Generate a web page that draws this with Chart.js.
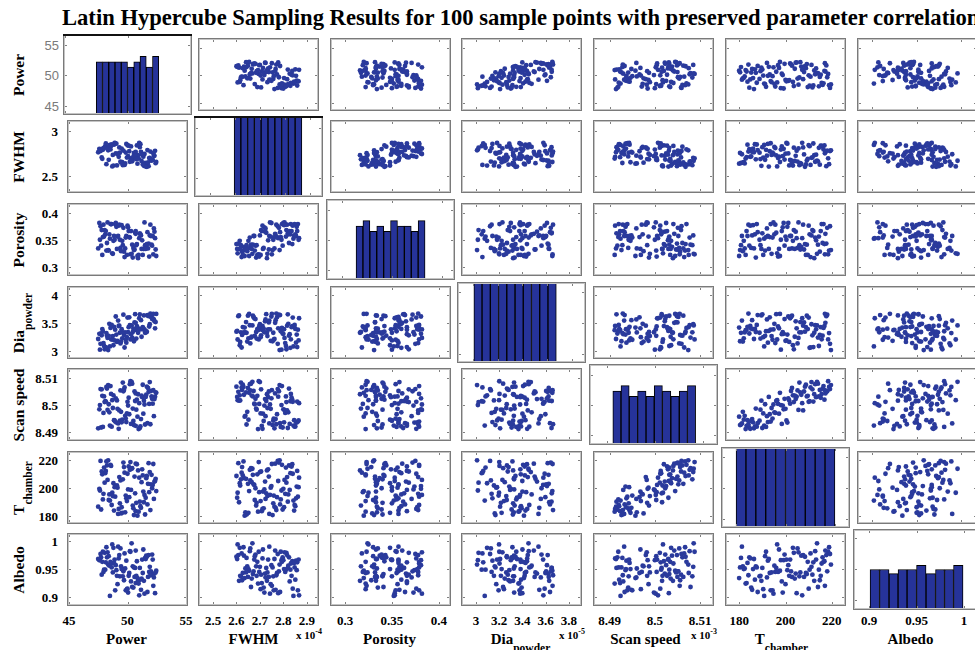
<!DOCTYPE html>
<html>
<head>
<meta charset="utf-8">
<script src="https://cdn.jsdelivr.net/npm/chart.js@4.4.1/dist/chart.umd.min.js"></script>
<style>
  html, body { margin: 0; padding: 0; background: #fff; overflow: hidden; }
  #fig { position: relative; width: 975px; height: 650px; overflow: hidden;
         font-family: "Liberation Serif", "Times New Roman", serif; color: #000; }
  #fig canvas { position: absolute; }
  .title { position: absolute; left: 62px; top: 7px; font-size: 22.6px; line-height: 22px;
           font-weight: bold; white-space: nowrap; }
  .ytk { position: absolute; right: 917px; transform: translateY(-50%); font-size: 13px;
         line-height: 13px; font-weight: bold; white-space: nowrap; }
  .ytk.first { font-family: "Liberation Sans", Arial, sans-serif; font-weight: normal; color: #7a7a7a; right: 916px; }
  .xtk { position: absolute; top: 614px; transform: translateX(-50%); font-size: 13px;
         line-height: 13px; font-weight: bold; white-space: nowrap; }
  .ytl { position: absolute; left: 19px; font-size: 15.5px; line-height: 16px; font-weight: bold;
         white-space: nowrap; transform: translate(-50%, -50%) rotate(-90deg); }
  .xtl { position: absolute; top: 631px; font-size: 15px; line-height: 16px; font-weight: bold;
         white-space: nowrap; transform: translateX(-50%); }
  .sub { position: relative; top: 8px; font-size: 11.5px; }
  .xexp { position: absolute; top: 630px; font-size: 11px; line-height: 11px; font-weight: bold; white-space: nowrap; }
  .xexp span { position: relative; top: -5px; font-size: 8px; }
</style>
</head>
<body>
<div id="fig"></div>
<script>
// 100 LHS samples, one array per parameter (FWHM in 1e-4, Dia in 1e-5, scan speed in 1e-3)
const power = [49.35, 51.6, 48.25, 50.7, 47.65, 52.05, 49.9, 48.8, 51.15, 50.25,
  47.95, 50.9, 49.55, 52.35, 48.5, 51.8, 49.15, 50.45, 48.1, 51.35,
  49.7, 47.75, 52.15, 48.95, 50.6, 51.5, 48.35, 50.05, 51.05, 49.4,
  47.5, 51.9, 48.7, 50.8, 49.8, 48.05, 52.25, 50.35, 49.05, 51.45,
  47.85, 51.7, 49.6, 50.55, 48.6, 52.45, 49.25, 51.0, 48.2, 50.15,
  52.0, 48.85, 51.25, 47.6, 49.95, 51.65, 48.45, 50.7, 49.45, 52.3,
  47.9, 50.4, 51.1, 49.0, 49.75, 51.85, 48.3, 50.85, 50.1, 48.75,
  52.1, 47.7, 51.4, 49.3, 50.5, 48.15, 51.75, 49.85, 48.55, 50.95,
  52.4, 49.2, 50.3, 47.8, 51.55, 49.65, 48.65, 51.2, 50.65, 48.0,
  51.95, 49.1, 50.0, 48.4, 52.2, 49.5, 51.3, 48.9, 50.75, 50.2];

const fwhm = [2.757, 2.632, 2.824, 2.708, 2.792, 2.670, 2.854, 2.614, 2.767, 2.695,
  2.808, 2.730, 2.651, 2.778, 2.843, 2.608, 2.746, 2.684, 2.830, 2.713,
  2.624, 2.797, 2.676, 2.862, 2.738, 2.643, 2.784, 2.719, 2.819, 2.659,
  2.762, 2.700, 2.605, 2.838, 2.638, 2.813, 2.724, 2.668, 2.857, 2.743,
  2.689, 2.786, 2.619, 2.754, 2.832, 2.654, 2.711, 2.867, 2.630, 2.773,
  2.673, 2.846, 2.735, 2.800, 2.703, 2.600, 2.821, 2.765, 2.646, 2.722,
  2.789, 2.662, 2.851, 2.749, 2.622, 2.697, 2.805, 2.635, 2.835, 2.732,
  2.681, 2.776, 2.611, 2.816, 2.716, 2.859, 2.649, 2.759, 2.794, 2.692,
  2.641, 2.740, 2.827, 2.705, 2.603, 2.781, 2.848, 2.665, 2.727, 2.811,
  2.770, 2.616, 2.840, 2.678, 2.751, 2.803, 2.627, 2.865, 2.686, 2.657];

const porosity = [0.350, 0.337, 0.344, 0.366, 0.350, 0.341, 0.357, 0.348, 0.358, 0.323,
  0.378, 0.316, 0.348, 0.353, 0.352, 0.343, 0.356, 0.317, 0.360, 0.333,
  0.328, 0.339, 0.357, 0.379, 0.332, 0.340, 0.331, 0.373, 0.362, 0.335,
  0.334, 0.358, 0.325, 0.342, 0.334, 0.368, 0.371, 0.324, 0.374, 0.382,
  0.322, 0.364, 0.340, 0.331, 0.379, 0.320, 0.376, 0.353, 0.330, 0.355,
  0.357, 0.357, 0.349, 0.381, 0.322, 0.342, 0.360, 0.361, 0.329, 0.365,
  0.355, 0.341, 0.360, 0.381, 0.318, 0.319, 0.382, 0.320, 0.366, 0.324,
  0.339, 0.375, 0.333, 0.378, 0.335, 0.366, 0.334, 0.354, 0.379, 0.322,
  0.332, 0.357, 0.366, 0.368, 0.333, 0.372, 0.379, 0.333, 0.363, 0.356,
  0.378, 0.333, 0.376, 0.330, 0.323, 0.377, 0.322, 0.350, 0.340, 0.354];

const diaPowder = [3.320, 3.327, 3.267, 3.373, 3.017, 3.624, 3.142, 3.096, 3.545, 3.201,
  3.135, 3.320, 3.221, 3.399, 3.076, 3.617, 3.175, 3.333, 3.050, 3.400,
  3.281, 3.307, 3.578, 3.375, 3.505, 3.318, 3.010, 3.329, 3.650, 3.129,
  3.208, 3.472, 3.199, 3.439, 3.326, 3.023, 3.558, 3.452, 3.287, 3.380,
  3.386, 3.637, 3.328, 3.168, 3.203, 3.657, 3.441, 3.580, 3.314, 3.597,
  3.604, 3.426, 3.382, 3.300, 3.241, 3.340, 3.479, 3.498, 3.162, 3.525,
  3.347, 3.234, 3.388, 3.611, 3.056, 3.432, 3.228, 3.413, 3.419, 3.261,
  3.564, 3.122, 3.630, 3.446, 3.393, 3.063, 3.626, 3.195, 3.406, 3.366,
  3.512, 3.538, 3.294, 3.274, 3.353, 3.644, 3.459, 3.248, 3.652, 3.083,
  3.663, 3.155, 3.591, 3.265, 3.659, 3.384, 3.421, 3.182, 3.215, 3.454];

const scanSpeed = [8.4942, 8.5038, 8.5061, 8.4923, 8.5000, 8.5032, 8.4937, 8.5036, 8.4948, 8.5088,
  8.4971, 8.5040, 8.4946, 8.5031, 8.4924, 8.5049, 8.4986, 8.4987, 8.5014, 8.4968,
  8.5056, 8.4917, 8.5005, 8.4939, 8.5050, 8.4928, 8.5074, 8.4998, 8.4915, 8.5054,
  8.4914, 8.5085, 8.5018, 8.5020, 8.4960, 8.5011, 8.4959, 8.5086, 8.4935, 8.5002,
  8.5034, 8.4933, 8.5083, 8.4926, 8.5041, 8.5045, 8.4912, 8.5007, 8.5067, 8.4966,
  8.5052, 8.4944, 8.5029, 8.4984, 8.4969, 8.5068, 8.4973, 8.5043, 8.4975, 8.5022,
  8.4919, 8.5079, 8.4921, 8.5025, 8.5065, 8.5004, 8.4982, 8.4957, 8.5027, 8.4989,
  8.5023, 8.5059, 8.5016, 8.4980, 8.4941, 8.5013, 8.5063, 8.4950, 8.5070, 8.4911,
  8.5047, 8.4932, 8.4930, 8.5058, 8.5030, 8.5051, 8.4920, 8.5035, 8.5015, 8.5032,
  8.4929, 8.5017, 8.5012, 8.5003, 8.5055, 8.4936, 8.5075, 8.4943, 8.4983, 8.5077];

const tChamber = [188.8, 206.8, 216, 183.2, 198, 209.2, 192.4, 203.2, 185.6, 218.4,
  195.6, 212.4, 182, 204.8, 190.8, 217.6, 200, 187.2, 210.4, 197.2,
  214.8, 184.4, 202, 193.6, 208, 180.8, 219.6, 198.8, 190, 205.2,
  186.4, 211.2, 196.4, 216.8, 182.4, 203.6, 192, 213.6, 200.8, 194.8,
  209.6, 188, 206, 180.4, 215.6, 197.6, 184.8, 207.2, 218.8, 193.2,
  202.4, 183.6, 213.2, 199.2, 190.4, 208.4, 195.2, 217.2, 181.6, 204.4,
  191.6, 214, 186.8, 201.2, 210.8, 196.8, 205.6, 180, 215.2, 194,
  199.6, 219.2, 189.6, 207.6, 185.2, 212, 202.8, 194.4, 216.4, 182.8,
  206.4, 181.2, 198.4, 211.6, 192.8, 218, 187.6, 204, 196, 214.4,
  184, 201.6, 210, 191.2, 217.0, 186, 208.8, 200.4, 189.2, 212.8];

const albedo = [0.937, 0.974, 0.971, 0.925, 0.966, 0.941, 0.965, 0.988, 0.913, 0.981,
  0.945, 0.929, 0.950, 0.907, 0.902, 0.975, 0.923, 0.955, 0.949, 0.985,
  0.930, 0.971, 0.967, 0.912, 0.936, 0.970, 0.958, 0.908, 0.952, 0.987,
  0.968, 0.954, 0.994, 0.964, 0.951, 0.979, 0.935, 0.996, 0.948, 0.906,
  0.963, 0.909, 0.937, 0.953, 0.960, 0.947, 0.969, 0.903, 0.989, 0.943,
  0.946, 0.961, 0.967, 0.966, 0.914, 0.972, 0.956, 0.983, 0.955, 0.942,
  0.981, 0.918, 0.931, 0.957, 0.978, 0.945, 0.980, 0.934, 0.938, 0.944,
  0.976, 0.977, 0.929, 0.975, 0.917, 0.962, 0.936, 0.912, 0.963, 0.924,
  0.944, 0.990, 0.928, 0.940, 0.968, 0.946, 0.953, 0.933, 0.952, 0.949,
  0.939, 0.938, 0.915, 0.973, 0.920, 0.950, 0.943, 0.967, 0.938, 0.982];

// histogram bin centres and counts on the diagonal
const powerBins = [47.75, 48.25, 48.75, 49.25, 49.75, 50.25, 50.75, 51.25, 51.75, 52.25];
const powerCounts = [10, 10, 10, 10, 10, 9, 10, 11, 9, 11];
const fwhmBins = [2.610, 2.637, 2.664, 2.691, 2.718, 2.746, 2.773, 2.800, 2.827, 2.854];
const fwhmCounts = [10, 10, 10, 10, 10, 10, 10, 10, 10, 10];
const porosityBins = [0.3175, 0.3244, 0.3313, 0.3382, 0.3451, 0.3520, 0.3589, 0.3658, 0.3727, 0.3796];
const porosityCounts = [10, 11, 9, 10, 9, 11, 10, 10, 9, 11];
const diaBins = [3.041, 3.107, 3.174, 3.240, 3.307, 3.373, 3.439, 3.506, 3.572, 3.639];
const diaCounts = [10, 10, 10, 10, 10, 10, 10, 10, 10, 10];
const scanBins = [8.4921, 8.4938, 8.4955, 8.4973, 8.4990, 8.5007, 8.5024, 8.5042, 8.5059, 8.5076];
const scanCounts = [10, 11, 9, 10, 9, 11, 10, 9, 10, 11];
const tBins = [182, 186, 190, 194, 198, 202, 206, 210, 214, 218];
const tCounts = [10, 10, 10, 10, 10, 10, 10, 10, 10, 10];
const albedoBins = [0.906, 0.916, 0.926, 0.935, 0.945, 0.955, 0.965, 0.975, 0.984, 0.994];
const albedoCounts = [10, 10, 9, 10, 10, 11, 9, 10, 10, 11];
const histMax = [15.2, 9, 15, 9, 15, 9, 20];

// axis limits and ticks (x per column, y per row)
const xLim = [[44.84, 55.16], [2.436, 2.952], [0.284, 0.413], [2.872, 3.912], [8.4863, 8.5131], [173.9, 226.1], [0.883, 1.019]];
const yLim = [[43.5, 56.8], [2.31, 3.12], [0.283, 0.418], [2.85, 4.157], [8.4867, 8.5137], [174, 226.3], [0.884, 1.0145]];
const xTicks = [[45, 50, 55], [2.5, 2.6, 2.7, 2.8, 2.9], [0.3, 0.35, 0.4], [3, 3.2, 3.4, 3.6, 3.8], [8.49, 8.5, 8.51], [180, 200, 220], [0.9, 0.95, 1]];
const yTicks = [[45, 50, 55], [2.5, 3], [0.3, 0.35, 0.4], [3, 3.5, 4], [8.49, 8.5, 8.51], [180, 200, 220], [0.9, 0.95, 1]];

const labels = ['Power', 'FWHM', 'Porosity', 'Dia<span class="sub">powder</span>', 'Scan speed', 'T<span class="sub">chamber</span>', 'Albedo'];
const expLabels = ['', 'x 10<span>-4</span>', '', 'x 10<span>-5</span>', 'x 10<span>-3</span>', '', ''];

const vars = [power, fwhm, porosity, diaPowder, scanSpeed, tChamber, albedo];
const bins = [powerBins, fwhmBins, porosityBins, diaBins, scanBins, tBins, albedoBins];
const counts = [powerCounts, fwhmCounts, porosityCounts, diaCounts, scanCounts, tCounts, albedoCounts];

const BLUE = '#2a3a9c';
const colLeft = [63, 194, 326, 457, 589, 721, 853];
const rowTop = [34, 116, 199, 282, 364, 447, 529];
const PW = 129, PH = 81;
const xTitleShift = [-1, -5, -1, -1, -8, -4, -7];

// box + inward tick marks, like the matlab axes
const framePlugin = {
  id: 'frame',
  afterDraw(chart, args, opts) {
    const ctx = chart.ctx, a = chart.chartArea;
    const xs = chart.scales.x, ys = chart.scales[opts.yId];
    ctx.save();
    ctx.strokeStyle = '#808080';
    ctx.lineWidth = 1;
    ctx.beginPath();
    opts.xTicks.forEach(v => {
      const px = Math.round(xs.getPixelForValue(v)) + 0.5;
      ctx.moveTo(px, a.top); ctx.lineTo(px, a.top + 4);
      ctx.moveTo(px, a.bottom); ctx.lineTo(px, a.bottom - 4);
    });
    opts.yTicks.forEach(v => {
      const py = Math.round(ys.getPixelForValue(v)) + 0.5;
      ctx.moveTo(a.left, py); ctx.lineTo(a.left + 4, py);
      ctx.moveTo(a.right, py); ctx.lineTo(a.right - 4, py);
    });
    ctx.stroke();
    ctx.strokeStyle = '#7a7a7a';
    ctx.strokeRect(a.left + 0.5, a.top + 0.5, a.right - a.left - 1, a.bottom - a.top - 1);
    ctx.strokeStyle = '#c4c4c4';
    ctx.strokeRect(a.left + 1.5, a.top + 1.5, a.right - a.left - 3, a.bottom - a.top - 3);
    if (opts.topBlack) {
      ctx.strokeStyle = '#111';
      ctx.lineWidth = 2;
      ctx.beginPath();
      ctx.moveTo(a.left, a.top + 1); ctx.lineTo(a.right, a.top + 1);
      ctx.stroke();
    }
    ctx.restore();
  }
};

const fig = document.getElementById('fig');
const title = document.createElement('div');
title.className = 'title';
title.textContent = 'Latin Hypercube Sampling Results for 100 sample points with preserved parameter correlations';
fig.appendChild(title);

const charts = [];
for (let r = 0; r < 7; r++) {
  charts.push([]);
  for (let c = 0; c < 7; c++) {
    const cv = document.createElement('canvas');
    cv.width = PW; cv.height = PH;
    cv.style.left = colLeft[c] + 'px';
    cv.style.top = rowTop[r] + 'px';
    fig.appendChild(cv);

    const frame = { xTicks: xTicks[c], yTicks: yTicks[r], yId: r === c ? 'yv' : 'y', topBlack: r === c && r < 2 };
    const common = {
      responsive: false, animation: false, devicePixelRatio: 1, events: [],
      layout: { padding: 0 },
      plugins: { legend: { display: false }, tooltip: { enabled: false }, frame: frame }
    };
    let cfg;
    if (r === c) {
      cfg = {
        type: 'bar',
        data: { datasets: [{
          data: bins[c].map((b, i) => ({ x: b, y: counts[c][i] })),
          backgroundColor: '#26339a', borderColor: '#000', borderWidth: 1,
          barThickness: 'flex', barPercentage: 1, categoryPercentage: 1, clip: 0
        }] },
        options: Object.assign({}, common, {
          scales: {
            x: { type: 'linear', display: false, offset: false, min: xLim[c][0], max: xLim[c][1] },
            y: { type: 'linear', display: false, min: 0, max: histMax[r] },
            yv: { type: 'linear', display: false, min: yLim[r][0], max: yLim[r][1] }
          }
        }),
        plugins: [framePlugin]
      };
    } else {
      cfg = {
        type: 'scatter',
        data: { datasets: [{
          data: vars[c].map((v, i) => ({ x: v, y: vars[r][i] })),
          pointRadius: 2.4, pointBackgroundColor: BLUE, pointBorderWidth: 0, borderWidth: 0
        }] },
        options: Object.assign({}, common, {
          scales: {
            x: { type: 'linear', display: false, min: xLim[c][0], max: xLim[c][1] },
            y: { type: 'linear', display: false, min: yLim[r][0], max: yLim[r][1] }
          }
        }),
        plugins: [framePlugin]
      };
    }
    charts[r].push(new Chart(cv, cfg));
  }
}

function addDiv(cls, html) {
  const d = document.createElement('div');
  d.className = cls;
  d.innerHTML = html;
  fig.appendChild(d);
  return d;
}

// tick labels, placed from the panels' own scales
for (let r = 0; r < 7; r++) {
  const ch = charts[r][0];
  const sc = r === 0 ? ch.scales.yv : ch.scales.y;
  yTicks[r].forEach(v => {
    const d = addDiv(r === 0 ? 'ytk first' : 'ytk', String(v));
    d.style.top = (rowTop[r] + sc.getPixelForValue(v)) + 'px';
  });
  const t = addDiv('ytl', labels[r]);
  t.style.top = (rowTop[r] + PH / 2) + 'px';
}
for (let c = 0; c < 7; c++) {
  const ch = charts[6][c];
  xTicks[c].forEach(v => {
    const d = addDiv('xtk', String(v));
    d.style.left = (colLeft[c] + ch.scales.x.getPixelForValue(v)) + 'px';
  });
  const t = addDiv('xtl', labels[c]);
  t.style.left = (colLeft[c] + PW / 2 + xTitleShift[c]) + 'px';
  if (expLabels[c]) {
    const e = addDiv('xexp', expLabels[c]);
    e.style.right = (975 - (colLeft[c] + PW - 1)) + 'px';
  }
}
</script>
</body>
</html>
